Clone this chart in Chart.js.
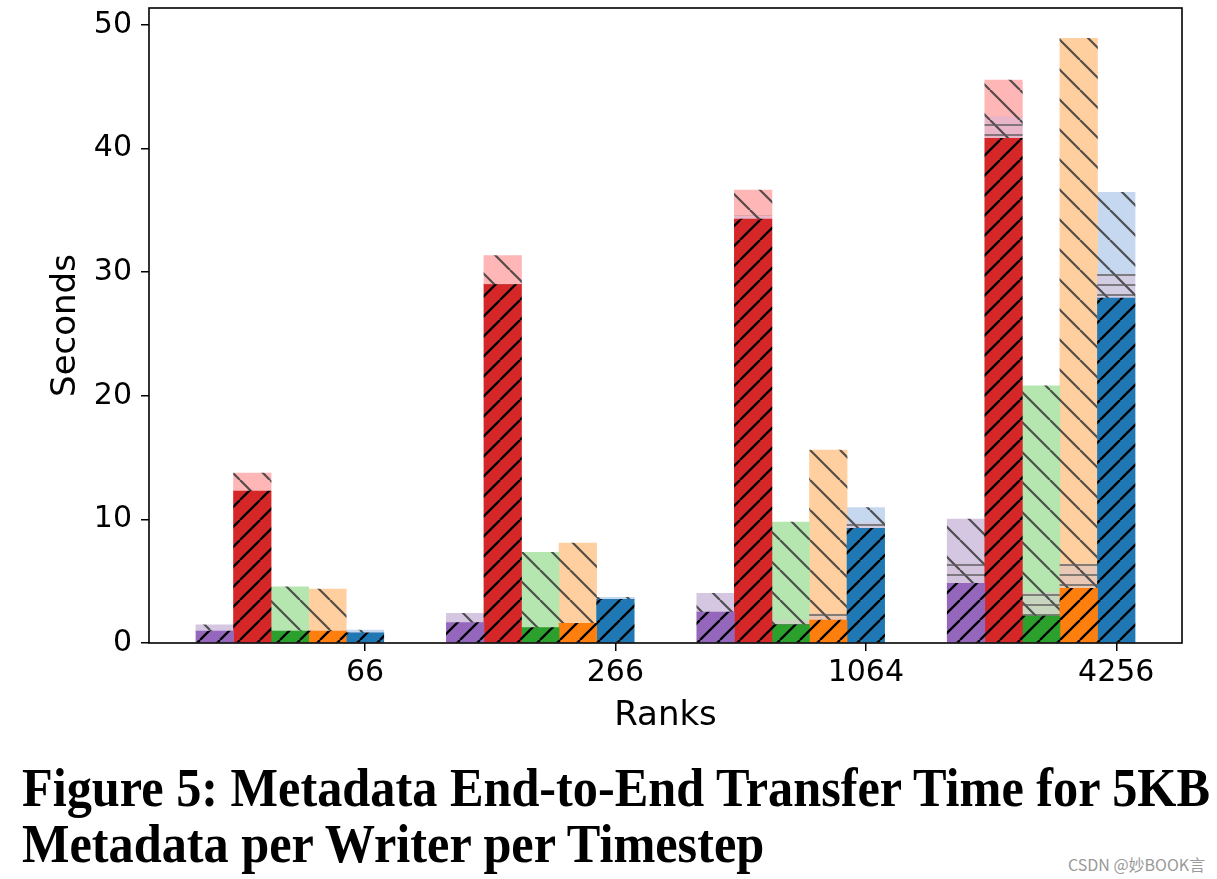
<!DOCTYPE html>
<html>
<head>
<meta charset="utf-8">
<script src="https://cdn.jsdelivr.net/npm/chart.js@4"></script>
<style>
  body { margin: 0; background: #fff; }
  #wrap { position: relative; width: 1217px; height: 879px; overflow: hidden; }
  #chart { position: absolute; left: 0; top: 0; }
  .cap { position: absolute; left: 22px; font-family: "Liberation Serif", serif; font-weight: bold;
         font-size: 54px; line-height: 54px; white-space: nowrap; color: #000; transform-origin: 0 0; }
  #mark { position: absolute; left: 1068px; top: 852px; font: 16px "Noto Sans CJK SC", "DejaVu Sans", sans-serif;
          color: #999; white-space: nowrap; }
</style>
</head>
<body>
<div id="wrap">
  <canvas id="chart" width="1217" height="740"></canvas>
  <div class="cap" id="cap1" style="top:761px">Figure 5: Metadata End-to-End Transfer Time for 5KB</div>
  <div class="cap" id="cap2" style="top:817px">Metadata per Writer per Timestep</div>
  <div id="mark">CSDN @妙BOOK言</div>
</div>
<script>
// data (seconds)
const ranks = ['66', '266', '1064', '4256'];
const yTicks = [0, 10, 20, 30, 40, 50];

// each bar = dark base + banded middle + light top
const purpleBase = [0.97, 1.65, 2.51, 4.83];
const purpleMid  = [0, 0, 0, 1.70];
const purpleTop  = [0.49, 0.75, 1.51, 3.50];

const redBase = [12.3, 29.0, 34.3, 40.83];
const redMid  = [0, 0, 0.25, 1.75];
const redTop  = [1.45, 2.35, 2.1, 2.97];

const greenBase = [0.97, 1.24, 1.46, 2.18];
const greenMid  = [0, 0, 0.40, 1.89];
const greenTop  = [3.58, 6.10, 7.93, 16.73];

const orangeBase = [0.97, 1.59, 1.86, 4.42];
const orangeMid  = [0, 0, 0.49, 1.97];
const orangeTop  = [3.40, 6.50, 13.25, 42.54];

const blueBase = [0.83, 3.53, 9.28, 27.9];
const blueMid  = [0, 0, 0.45, 1.95];
const blueTop  = [0.22, 0.17, 1.22, 6.61];

const series = [
    { base: purpleBase, mid: purpleMid, top: purpleTop, dark: '#9467bd', band: '#d3c3dd', light: '#d5c6e1' },
    { base: redBase,    mid: redMid,    top: redTop,    dark: '#d62728', band: '#e8b6c8', light: '#ffb6b6' },
    { base: greenBase,  mid: greenMid,  top: greenTop,  dark: '#2ca02c', band: '#c8d6c0', light: '#b6e6b0' },
    { base: orangeBase, mid: orangeMid, top: orangeTop, dark: '#ff7f0e', band: '#eac8b6', light: '#ffcfa0' },
    { base: blueBase,   mid: blueMid,   top: blueTop,   dark: '#1f77b4', band: '#d2cde3', light: '#c6d8ef' }
];

const barStep = 0.15;   // bar width in x units, bars touch
const ctx = document.getElementById('chart').getContext('2d');

// hatch patterns like matplotlib's '/', '\' and '-'
function hatch(fill, kinds, step) {
    const c = document.createElement('canvas');
    c.width = step; c.height = step;
    const g = c.getContext('2d');
    g.fillStyle = fill;
    g.fillRect(0, 0, step, step);
    kinds.forEach(k => {
        g.beginPath();
        if (k === '/') {
            g.strokeStyle = '#000'; g.lineWidth = 2.3;
            for (let i = -1; i <= 1; i++) { g.moveTo(i * step, step); g.lineTo(i * step + step, 0); }
        } else if (k === '\\') {
            g.strokeStyle = 'rgba(55,55,55,0.85)'; g.lineWidth = 2.2;
            for (let i = -1; i <= 1; i++) { g.moveTo(i * step, 0); g.lineTo(i * step + step, step); }
        } else {
            g.strokeStyle = 'rgba(90,90,90,0.7)'; g.lineWidth = 2;
            for (let y = 5; y < step; y += 10) { g.moveTo(0, y); g.lineTo(step, y); }
        }
        g.stroke();
    });
    return ctx.createPattern(c, 'repeat');
}

const n = series.length;
const points = (vals, k) => vals.map((v, g) => ({ x: g - (n - 1 - k) * barStep, y: v }));

const datasets = [];
series.forEach((s, k) => datasets.push({ data: points(s.base, k), backgroundColor: hatch(s.dark, ['/'], 20) }));
series.forEach((s, k) => datasets.push({ data: points(s.mid, k), backgroundColor: hatch(s.band, ['\\', '-'], 30) }));
series.forEach((s, k) => datasets.push({ data: points(s.top, k), backgroundColor: hatch(s.light, ['\\'], 30) }));

// matplotlib-like 5% margins around the bars, y top = 1.05 * tallest bar
const leftEdge = -(n - 1) * barStep - barStep / 2;
const rightEdge = ranks.length - 1 + barStep / 2;
const xPad = (rightEdge - leftEdge) * 0.05;
const totals = series.flatMap(s => s.base.map((b, i) => b + s.mid[i] + s.top[i]));
const yMax = Math.max(...totals) * 1.05;

const boxPlugin = {
    id: 'box',
    afterDraw(chart) {
        const a = chart.chartArea, c = chart.ctx;
        c.save();
        c.strokeStyle = '#000';
        c.lineWidth = 1.6;
        c.strokeRect(a.left, a.top, a.right - a.left, a.bottom - a.top);
        c.restore();
    }
};

new Chart(ctx, {
    type: 'bar',
    data: { datasets: datasets },
    plugins: [boxPlugin],
    options: {
        responsive: false,
        animation: false,
        devicePixelRatio: 1,
        barPercentage: 1,
        categoryPercentage: 1,
        layout: { padding: { top: 8, right: 35, left: 0, bottom: 0 } },
        plugins: { legend: { display: false }, tooltip: { enabled: false } },
        scales: {
            x: {
                type: 'linear',
                stacked: true,
                offset: false,
                min: leftEdge - xPad,
                max: rightEdge + xPad,
                afterBuildTicks: s => { s.ticks = ranks.map((r, i) => ({ value: i })); },
                afterFit: s => { s.height = 97; s.paddingLeft = 0; s.paddingRight = 0; },
                border: { display: false },
                grid: { offset: false, drawOnChartArea: false, drawTicks: true, tickLength: 8, color: '#000', lineWidth: 1.5 },
                ticks: {
                    callback: v => ranks[v],
                    color: '#000',
                    padding: 4,
                    maxRotation: 0,
                    autoSkip: false,
                    font: { family: 'DejaVu Sans', size: 30 }
                },
                title: {
                    display: true,
                    text: 'Ranks',
                    color: '#000',
                    padding: { top: 0, bottom: 3 },
                    font: { family: 'DejaVu Sans', size: 34 }
                }
            },
            y: {
                stacked: true,
                min: 0,
                max: yMax,
                afterBuildTicks: s => { s.ticks = yTicks.map(v => ({ value: v })); },
                afterFit: s => { s.width = 149; s.paddingTop = 0; s.paddingBottom = 0; },
                border: { display: false },
                grid: { drawOnChartArea: false, drawTicks: true, tickLength: 8, color: '#000', lineWidth: 1.5 },
                ticks: {
                    color: '#000',
                    padding: 9,
                    font: { family: 'DejaVu Sans', size: 30 }
                },
                title: {
                    display: true,
                    text: 'Seconds',
                    color: '#000',
                    padding: { top: 46, bottom: 0 },
                    font: { family: 'DejaVu Sans', size: 34 }
                }
            }
        }
    }
});

// squeeze the caption to the width it has in the figure
const cap1 = document.getElementById('cap1');
const squeeze = 1188 / cap1.getBoundingClientRect().width;
document.querySelectorAll('.cap').forEach(el => { el.style.transform = 'scaleX(' + squeeze + ')'; });
</script>
</body>
</html>
